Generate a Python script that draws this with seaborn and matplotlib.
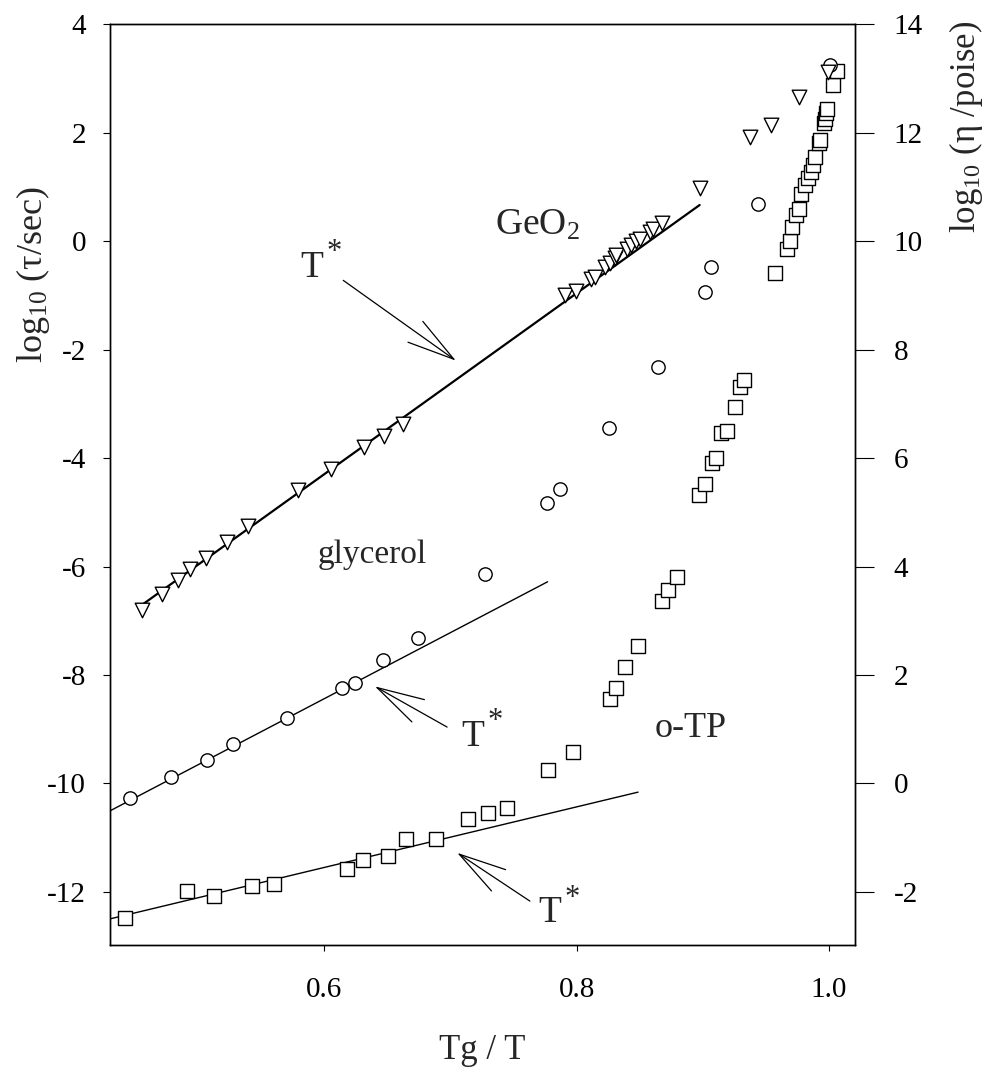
import numpy as np
import pandas as pd
import matplotlib
matplotlib.use('Agg')
import matplotlib.pyplot as plt
import seaborn as sns

# GeO2 (triangulos)
geo2_x = [0.4554, 0.4712, 0.4839, 0.4936, 0.5063, 0.5227, 0.5393, 0.5794, 0.6053, 0.6317,
          0.6473, 0.6626, 0.7907, 0.7994, 0.8112, 0.8144, 0.8229, 0.8263, 0.8303, 0.8311,
          0.8400, 0.8435, 0.8474, 0.8501, 0.8580, 0.8606, 0.8680, 0.8976, 0.9372, 0.9544,
          0.9760, 0.9992]
geo2_y = [-6.80, -6.51, -6.25, -6.05, -5.84, -5.54, -5.25, -4.59, -4.20, -3.80,
          -3.59, -3.37, -0.99, -0.91, -0.70, -0.65, -0.48, -0.40, -0.31, -0.26,
          -0.15, -0.07, 0.01, 0.04, 0.18, 0.23, 0.34, 0.98, 1.93, 2.14,
          2.66, 3.12]

# glycerol (circulos)
glic_x = [0.4461, 0.4783, 0.5073, 0.5279, 0.5702, 0.6138, 0.6246, 0.6468, 0.6745, 0.7278,
          0.7762, 0.7872, 0.8255, 0.8646, 0.9016, 0.9068, 0.9438, 1.0006]
glic_y = [-10.26, -9.88, -9.56, -9.28, -8.79, -8.24, -8.14, -7.72, -7.31, -6.14,
          -4.83, -4.56, -3.44, -2.31, -0.93, -0.48, 0.69, 3.25]

# o-TP (quadrados)
otp_x = [0.4420, 0.4915, 0.5126, 0.5425, 0.5602, 0.6177, 0.6309, 0.6507, 0.6647, 0.6885,
         0.7141, 0.7299, 0.7450, 0.7774, 0.7972, 0.8268, 0.8316, 0.8387, 0.8487, 0.8677,
         0.8728, 0.8799, 0.8970, 0.9021, 0.9071, 0.9108, 0.9142, 0.9192, 0.9259, 0.9293,
         0.9330, 0.9570, 0.9670, 0.9689, 0.9705, 0.9742, 0.9762, 0.9781, 0.9808, 0.9834,
         0.9861, 0.9873, 0.9887, 0.9921, 0.9932, 0.9960, 0.9966, 0.9974, 0.9987, 1.0035,
         1.0063]
otp_y = [-12.48, -11.99, -12.08, -11.89, -11.86, -11.57, -11.42, -11.34, -11.03, -11.02,
         -10.65, -10.54, -10.46, -9.76, -9.42, -8.44, -8.24, -7.85, -7.47, -6.63,
         -6.44, -6.20, -4.68, -4.48, -4.09, -4.00, -3.54, -3.49, -3.06, -2.69,
         -2.56, -0.58, -0.15, 0.01, 0.26, 0.49, 0.60, 0.88, 1.03, 1.16,
         1.28, 1.41, 1.56, 1.82, 1.87, 2.18, 2.26, 2.36, 2.44, 2.88,
         3.15]

# retas de ajuste (extremos)
geo2_fit_x = [0.4560, 0.8975]
geo2_fit_y = [-6.70, 0.67]
glic_fit_x = [0.4299, 0.7770]
glic_fit_y = [-10.51, -6.28]
otp_fit_x = [0.4299, 0.8487]
otp_fit_y = [-12.50, -10.16]

# setas T* : (ponta x, ponta y, cauda x, cauda y, texto x, texto y)
setas_tstar = [
    (0.7043, -2.20, 0.6151, -0.72, 0.5808, -0.65),
    (0.6402, -8.21, 0.6974, -8.96, 0.7088, -9.30),
    (0.7054, -11.28, 0.7630, -12.17, 0.7694, -12.56),
]

x_ticks = [0.6, 0.8, 1.0]
x_ticklabels = ['0.6', '0.8', '1.0']
y_ticks = list(range(-12, 5, 2))
y2_ticks = list(range(-2, 15, 2))

sns.set_style('ticks')
plt.rcParams['font.family'] = ['Liberation Serif', 'DejaVu Serif']
plt.rcParams['mathtext.fontset'] = 'custom'
plt.rcParams['mathtext.rm'] = 'Liberation Serif'
plt.rcParams['mathtext.it'] = 'Liberation Serif:italic'
plt.rcParams['mathtext.default'] = 'regular'
plt.rcParams['axes.unicode_minus'] = False

fig = plt.figure(figsize=(9.92, 10.74), dpi=100)
ax = fig.add_axes([0.1104, 0.1201, 0.7515, 0.8571])

# retas
sns.lineplot(x=geo2_fit_x, y=geo2_fit_y, ax=ax, color='black', linewidth=1.6, sort=False, zorder=2)
sns.lineplot(x=glic_fit_x, y=glic_fit_y, ax=ax, color='black', linewidth=1.0, sort=False, zorder=2)
sns.lineplot(x=otp_fit_x, y=otp_fit_y, ax=ax, color='black', linewidth=1.0, sort=False, zorder=2)

# pontos
sns.scatterplot(x=otp_x, y=otp_y, ax=ax, marker='s', s=88, facecolor='white',
                edgecolor='black', linewidth=1.0, zorder=3)
sns.scatterplot(x=glic_x, y=glic_y, ax=ax, marker='o', s=92, facecolor='white',
                edgecolor='black', linewidth=1.0, zorder=3)
sns.scatterplot(x=geo2_x, y=geo2_y, ax=ax, marker='v', s=110, facecolor='white',
                edgecolor='black', linewidth=1.0, zorder=4)

ax.set_xlim(0.4299, 1.0206)
ax.set_ylim(-12.98, 3.96)
ax.set_xticks(x_ticks)
ax.set_xticklabels(x_ticklabels)
ax.set_yticks(y_ticks)
ax.set_yticklabels([str(v) for v in y_ticks])
ax.tick_params(axis='y', direction='out', length=5, width=0.8, pad=12, labelsize=21, colors='black')
ax.tick_params(axis='x', direction='out', length=4, width=0.8, pad=19, labelsize=21, colors='black')
for sp in ax.spines.values():
    sp.set_linewidth(1.0)
    sp.set_color('black')

ax.set_xlabel('Tg / T', fontsize=25, labelpad=22)
ax.set_ylabel(r'log$_{10}$ (τ/sec)', fontsize=26, va='center')
ax.yaxis.set_label_coords(-0.102, 0.728)

ax2 = ax.twinx()
ax2.set_ylim(-12.98 + 10, 3.96 + 10)
ax2.set_yticks(y2_ticks)
ax2.set_yticklabels([str(v) for v in y2_ticks])
ax2.tick_params(axis='y', direction='out', length=13.7, width=0.8, pad=14, labelsize=21, colors='black')
ax2.set_ylabel(r'log$_{10}$ (η /poise)', fontsize=25, va='center')
ax2.yaxis.set_label_coords(1.149, 0.889)
for sp in ax2.spines.values():
    sp.set_linewidth(1.0)
    sp.set_color('black')

# rotulos
ax.text(0.7353, 0.12, r'GeO$_2$', fontsize=27, ha='left', va='baseline')
ax.text(0.5950, -5.93, 'glycerol', fontsize=24, ha='left', va='baseline')
ax.text(0.8620, -9.15, 'o-TP', fontsize=26, ha='left', va='baseline')

for hx, hy, tx, ty, lx, ly in setas_tstar:
    ax.annotate('', xy=(hx, hy), xytext=(tx, ty),
                arrowprops=dict(arrowstyle='->, head_length=34, head_width=9.2',
                                mutation_scale=1, color='black', lw=0.9,
                                shrinkA=0, shrinkB=0))
    ax.text(lx, ly, 'T', fontsize=27, ha='left', va='baseline')
    ax.annotate('*', xy=(lx, ly), xytext=(19, 12), textcoords='offset points',
                fontsize=22, ha='left', va='baseline')

fig.savefig('out.png', dpi=100)
